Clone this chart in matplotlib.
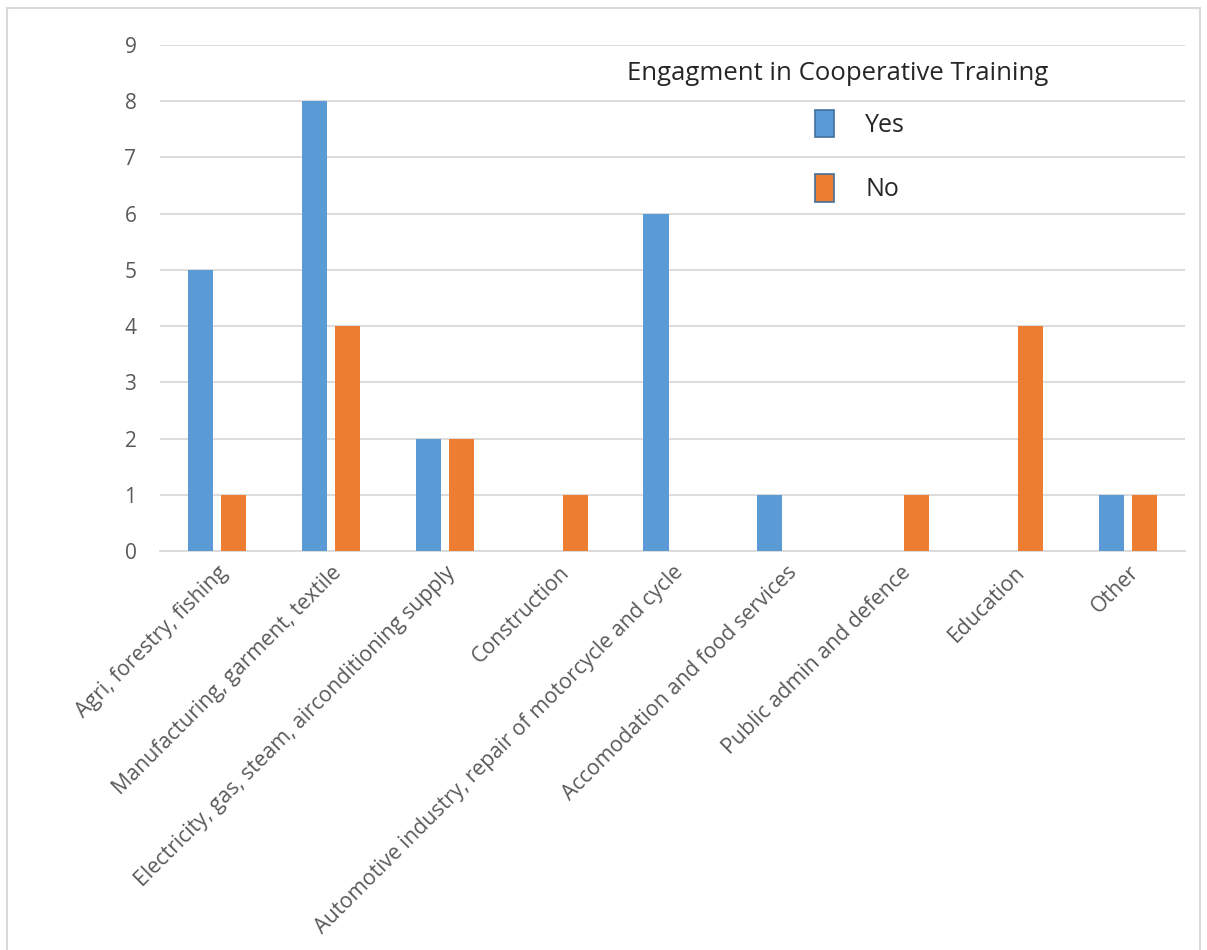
import matplotlib
matplotlib.use("Agg")
import matplotlib.pyplot as plt
import numpy as np
from matplotlib.patches import Rectangle, Patch

categories = ["Agri, forestry, fishing", "Manufacturing, garment, textile",
              "Electricity, gas, steam, airconditioning supply", "Construction",
              "Automotive industry, repair of motorcycle and cycle",
              "Accomodation and food services", "Public admin and defence",
              "Education", "Other"]
yes_vals = [5, 8, 2, 0, 6, 1, 0, 0, 1]
no_vals = [1, 4, 2, 1, 0, 0, 1, 4, 1]
series_names = ["Yes", "No"]
legend_title = "Engagment in Cooperative Training"

plt.rcParams['font.family'] = ['Open Sans', 'DejaVu Sans']

fig = plt.figure(figsize=(12.07, 9.5), dpi=100)
W, H = 1207, 950
ax = fig.add_axes([160 / W, 1 - 551 / H, (1185 - 160) / W, (551 - 45) / H])

x = np.arange(len(categories))
bw = 0.22
off = 0.145
blue = "#5B9BD5"
orange = "#ED7D31"
ax.bar(x - off, yes_vals, bw, color=blue, zorder=3)
ax.bar(x + off, no_vals, bw, color=orange, zorder=3)

ax.set_xlim(-0.5, len(categories) - 0.5)
ax.set_ylim(0, 9)
ax.set_yticks(range(0, 10))
ax.yaxis.grid(True, color="#D9D9D9", linewidth=1.3, zorder=0)
ax.set_axisbelow(True)
for s in ["top", "right", "left"]:
    ax.spines[s].set_visible(False)
ax.spines["bottom"].set_color("#D9D9D9")
ax.spines["bottom"].set_linewidth(1.3)
ax.tick_params(axis="y", length=0, colors="#595959", labelsize=15, pad=17)
ax.set_xticks(x)
ax.set_xticklabels(categories, rotation=45, ha="right", rotation_mode="anchor")
ax.tick_params(axis="x", length=0, colors="#595959", labelsize=15.3, pad=8)

handles = [Patch(facecolor=blue, edgecolor="#41719C", linewidth=1.2),
           Patch(facecolor=orange, edgecolor="#41719C", linewidth=1.2)]
leg = ax.legend(handles, series_names, frameon=False,
                loc="upper left", bbox_to_anchor=(815 / W, 1 - 110 / H),
                bbox_transform=fig.transFigure, borderpad=0, borderaxespad=0,
                handlelength=0.75, handleheight=1.3, labelspacing=1.45,
                handletextpad=1.25, fontsize=18)
for t in leg.get_texts():
    t.set_color("#262626")
fig.text(838 / W, 1 - 73 / H, legend_title, ha="center", va="center",
         fontsize=18.5, color="#262626")

fig.patches.append(Rectangle((7 / W, -0.05), (1200 - 7) / W, 1.05 - 8 / H,
                             transform=fig.transFigure, fill=False,
                             edgecolor="#D9D9D9", linewidth=1.5))

fig.savefig("out.png", dpi=100)
